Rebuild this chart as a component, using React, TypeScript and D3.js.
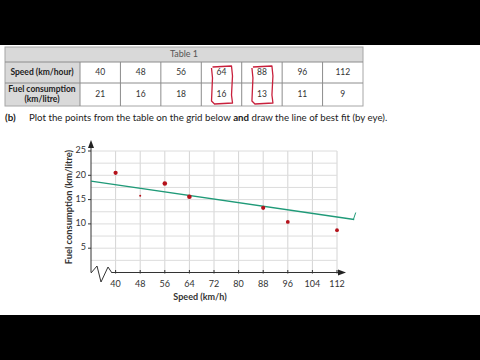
import React from "react";
import * as d3 from "d3";

const speeds = [40, 48, 56, 64, 88, 96, 112];
const fuelTable = [21, 16, 18, 16, 13, 11, 9];
const plottedFuel = [20.5, 15.8, 18.3, 15.6, 13.3, 10.4, 8.7];
const pointSizes = [2.1, 1.0, 2.3, 2.3, 2.1, 1.9, 1.9];
const xTicks = [40, 48, 56, 64, 72, 80, 88, 96, 104, 112];
const yTicks = [5, 10, 15, 20, 25];
const fitLine = [
  { x: 32, y: 18.8 },
  { x: 117.6, y: 10.9 },
];
const highlighted = [64, 88];

const FONT = "Lato, 'Open Sans', 'Liberation Sans', sans-serif";

export default function App() {
  const W = 480;
  const H = 360;
  const x = d3.scaleLinear().domain([32, 112]).range([91, 337]);
  const y = d3.scaleLinear().domain([0, 25]).range([272.5, 151]);

  const cols = d3.scaleBand<number>().domain(speeds).range([80, 363]);
  const tableLeft = 5;
  const tableRight = 363;
  const rowTop = [47, 62, 83];
  const rowBottom = 106;

  const gridX = d3.range(40, 113, 8);
  const gridY = d3.range(2.5, 25.01, 2.5);

  const line = d3
    .line<{ x: number; y: number }>()
    .x((d) => x(d.x))
    .y((d) => y(d.y));

  const end = fitLine[1];

  return (
    <svg
      width={W}
      height={H}
      style={{ position: "absolute", left: 0, top: 0, background: "#fff" }}
      fontFamily={FONT}
    >
      <rect x={0} y={0} width={W} height={H} fill="#fff" />
      {/* letterbox bars */}
      <rect x={0} y={0} width={W} height={45} fill="#000" />
      <rect x={0} y={315} width={W} height={45} fill="#000" />

      {/* Table */}
      <rect x={tableLeft} y={rowTop[0]} width={tableRight - tableLeft} height={rowTop[1] - rowTop[0]} fill="#d9d9d9" />
      <rect x={tableLeft} y={rowTop[1]} width={80 - tableLeft} height={rowBottom - rowTop[1]} fill="#d9d9d9" />
      <rect x={tableLeft} y={rowTop[0]} width={tableRight - tableLeft} height={rowBottom - rowTop[0]} fill="none" stroke="#a6a6a6" strokeWidth={1} />
      {rowTop.slice(1).map((r) => (
        <line key={r} x1={tableLeft} x2={tableRight} y1={r} y2={r} stroke="#8c8c8c" strokeWidth={1} />
      ))}
      <line x1={80} x2={80} y1={rowTop[1]} y2={rowBottom} stroke="#8c8c8c" />
      {speeds.slice(1).map((s) => (
        <line key={s} x1={cols(s)!} x2={cols(s)!} y1={rowTop[1]} y2={rowBottom} stroke="#8c8c8c" />
      ))}
      <text x={184} y={55} textAnchor="middle" dominantBaseline="middle" fontSize={9} fill="#555">
        Table 1
      </text>
      <text x={42} y={73} textAnchor="middle" dominantBaseline="middle" fontSize={8.5} fontWeight="bold" fill="#222">
        Speed (km/hour)
      </text>
      <text x={42} y={89.5} textAnchor="middle" dominantBaseline="middle" fontSize={8.5} fontWeight="bold" fill="#222">
        Fuel consumption
      </text>
      <text x={42} y={100} textAnchor="middle" dominantBaseline="middle" fontSize={8.5} fontWeight="bold" fill="#222">
        (km/litre)
      </text>
      {speeds.map((s, i) => (
        <g key={s}>
          <text x={cols(s)! + cols.bandwidth() / 2} y={73} textAnchor="middle" dominantBaseline="middle" fontSize={8.5} fill="#333">
            {s}
          </text>
          <text x={cols(s)! + cols.bandwidth() / 2} y={95} textAnchor="middle" dominantBaseline="middle" fontSize={8.5} fill="#333">
            {fuelTable[i]}
          </text>
        </g>
      ))}
      {/* hand-drawn red highlights */}
      {highlighted.map((s) => {
        const cx = cols(s)! + cols.bandwidth() / 2;
        const l = cx - 10;
        const r = cx + 10;
        const t = 66;
        const b = 103;
        const p = `M${l + 1},${t + 1} L${r},${t} L${r + 1},${t + 10} L${r},${b - 8} L${r + 1},${b} L${l + 3},${b + 1} L${l},${b - 2} L${l + 1},${t + 12} L${l},${t + 2}`;
        return <path key={s} d={p} fill="none" stroke="#c8203c" strokeWidth={1.3} strokeLinejoin="round" />;
      })}

      {/* Instruction */}
      <text x={5} y={121} fontSize={9.8} fontWeight="bold" fill="#222">
        (b)
      </text>
      <text x={29} y={121} fontSize={9.7} fill="#222">
        Plot the points from the table on the grid below <tspan fontWeight="bold">and</tspan> draw the line of best fit (by eye).
      </text>

      {/* Grid */}
      {gridX.map((g) => (
        <line key={"gx" + g} x1={x(g)} x2={x(g)} y1={y(25)} y2={y(0)} stroke="#d4d4d4" strokeWidth={1} />
      ))}
      {gridY.map((g) => (
        <line key={"gy" + g} x1={x(32)} x2={x(112)} y1={y(g)} y2={y(g)} stroke="#dcdcdc" strokeWidth={1} />
      ))}

      {/* Axes */}
      <line x1={x(32)} x2={x(32)} y1={y(0)} y2={143} stroke="#333" strokeWidth={1} />
      <path d={`M${x(32) - 3},${148} L${x(32)},${140} L${x(32) + 3},${148} Z`} fill="#222" />
      {/* zigzag break */}
      <path d={`M91,273 L97,266 L101,282 L108,267 L112,273`} fill="none" stroke="#333" strokeWidth={1} />
      <line x1={112} x2={340} y1={y(0)} y2={y(0)} stroke="#333" strokeWidth={1} />
      <path d={`M${338},${y(0) - 3} L${346},${y(0)} L${338},${y(0) + 3} Z`} fill="#222" />

      {xTicks.map((t) => (
        <g key={"xt" + t}>
          <line x1={x(t)} x2={x(t)} y1={y(0) - 2.5} y2={y(0) + 1} stroke="#333" />
          <text x={x(t)} y={285} textAnchor="middle" dominantBaseline="middle" fontSize={9} fill="#333">
            {t}
          </text>
        </g>
      ))}
      {yTicks.map((t) => (
        <g key={"yt" + t}>
          <line x1={x(32) - 3} x2={x(32)} y1={y(t)} y2={y(t)} stroke="#333" />
          <text x={x(32) - 5} y={y(t)} textAnchor="end" dominantBaseline="middle" fontSize={9} fill="#333">
            {t}
          </text>
        </g>
      ))}
      <text x={200} y={298} textAnchor="middle" dominantBaseline="middle" fontSize={9} fontWeight="bold" fill="#333">
        Speed (km/h)
      </text>
      <text
        transform={`translate(70,${207}) rotate(-90)`}
        textAnchor="middle"
        dominantBaseline="middle"
        fontSize={9.3}
        fontWeight="bold"
        fill="#333"
      >
        Fuel consumption (km/litre)
      </text>

      {/* Best fit line */}
      <path d={line(fitLine) ?? ""} fill="none" stroke="#1f9a78" strokeWidth={1.4} />
      <path
        d={`M${x(end.x) - 1},${y(end.y) + 0.5} L${x(end.x) + 1.5},${y(end.y) - 7}`}
        fill="none"
        stroke="#1f9a78"
        strokeWidth={1}
      />

      {/* Points */}
      {speeds.map((s, i) => (
        <circle key={"p" + s} cx={x(s)} cy={y(plottedFuel[i])} r={pointSizes[i]} fill="#b5121b" />
      ))}
    </svg>
  );
}
